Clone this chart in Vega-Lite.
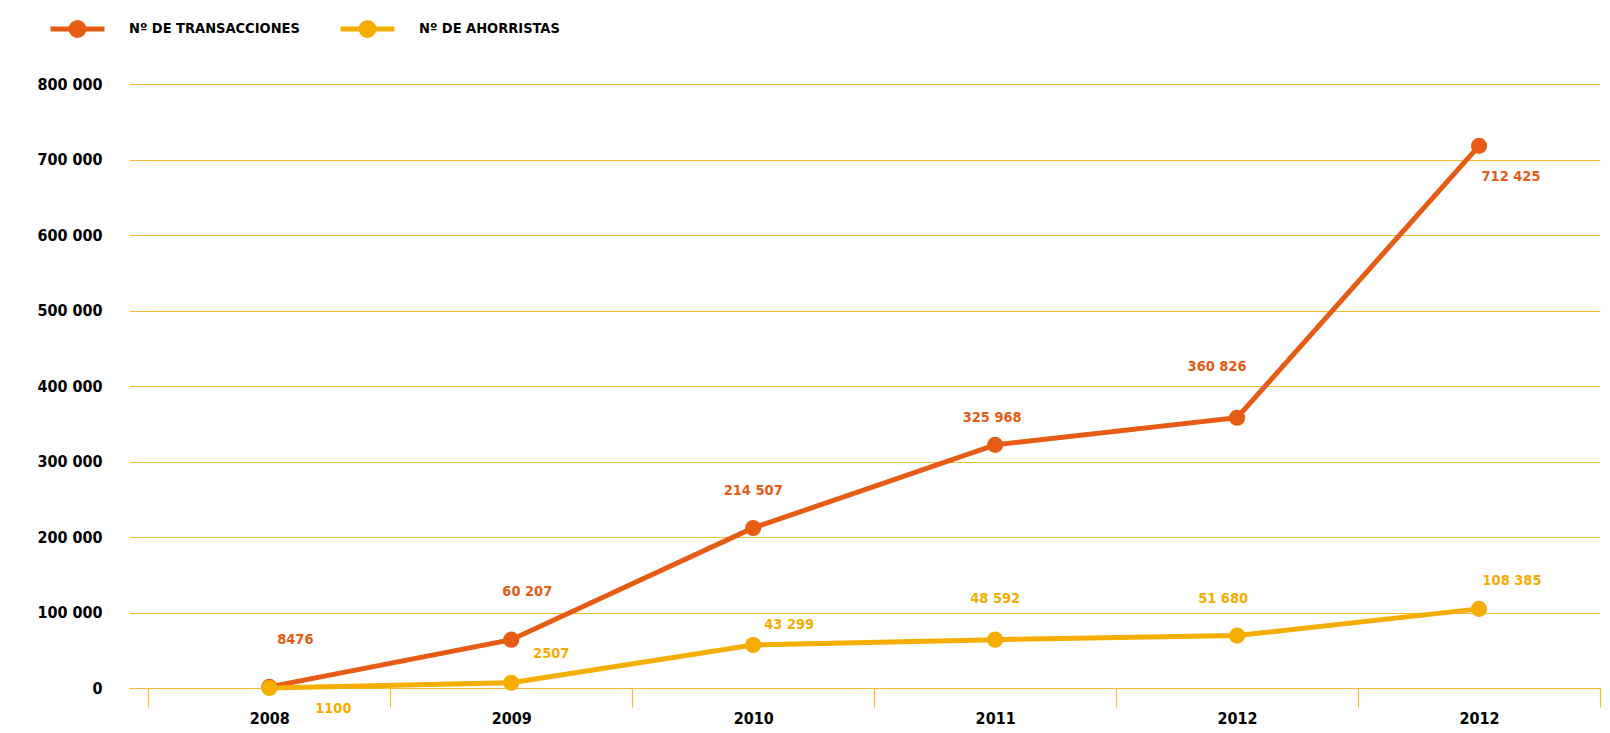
{
  "$schema": "https://vega.github.io/schema/vega-lite/v6.json",
  "autosize": {"type": "none"},
  "padding": {"left": 129, "top": 84, "right": 10, "bottom": 45},
  "width": 1471,
  "height": 604,
  "background": "white",
  "config": {
    "view": {"stroke": null},
    "font": "DejaVu Sans Condensed",
    "locale": {"number": {"decimal": ",", "thousands": " ", "grouping": [3], "currency": ["", ""]}}
  },
  "data": {"values": [
    {"year": "2008", "series": "Nº DE TRANSACCIONES", "value": 1500, "label": "8476"},
    {"year": "2009", "series": "Nº DE TRANSACCIONES", "value": 64000, "label": "60 207"},
    {"year": "2010", "series": "Nº DE TRANSACCIONES", "value": 212000, "label": "214 507"},
    {"year": "2011", "series": "Nº DE TRANSACCIONES", "value": 322000, "label": "325 968"},
    {"year": "2012", "series": "Nº DE TRANSACCIONES", "value": 358000, "label": "360 826"},
    {"year": "2012 ", "series": "Nº DE TRANSACCIONES", "value": 718000, "label": "712 425"},
    {"year": "2008", "series": "Nº DE AHORRISTAS", "value": 0, "label": "1100"},
    {"year": "2009", "series": "Nº DE AHORRISTAS", "value": 6900, "label": "2507"},
    {"year": "2010", "series": "Nº DE AHORRISTAS", "value": 57000, "label": "43 299"},
    {"year": "2011", "series": "Nº DE AHORRISTAS", "value": 64000, "label": "48 592"},
    {"year": "2012", "series": "Nº DE AHORRISTAS", "value": 69400, "label": "51 680"},
    {"year": "2012 ", "series": "Nº DE AHORRISTAS", "value": 104800, "label": "108 385"}
  ]},
  "encoding": {
    "x": {
      "field": "year", "type": "nominal", "sort": null,
      "scale": {"type": "band", "paddingInner": 0, "paddingOuter": 0.04, "align": 1},
      "axis": {
        "title": null, "labelAngle": 0, "tickBand": "extent",
        "domain": true, "domainColor": "#F8B934", "domainWidth": 1.2,
        "ticks": true, "tickColor": "#F8B934", "tickSize": 19, "tickWidth": 1.2,
        "labelFont": "DejaVu Sans Condensed", "labelFontWeight": "bold", "labelFontSize": 16,
        "labelColor": "#000000", "labelPadding": 3,
        "labelExpr": "slice(datum.label, 0, 4)"
      }
    },
    "y": {
      "field": "value", "type": "quantitative",
      "scale": {"domain": [0, 800000], "nice": false},
      "axis": {
        "title": null, "values": [0, 100000, 200000, 300000, 400000, 500000, 600000, 700000, 800000],
        "format": ",d", "domain": false, "ticks": false,
        "grid": true, "gridColor": "#F8B934", "gridWidth": 1.2,
        "labelFont": "DejaVu Sans Condensed", "labelFontWeight": "bold", "labelFontSize": 16,
        "labelColor": "#000000", "labelPadding": 27
      }
    }
  },
  "layer": [
    {
      "mark": {"type": "line", "strokeWidth": 5, "point": {"filled": true, "opacity": 1, "size": 260}},
      "encoding": {
        "color": {
          "field": "series", "type": "nominal",
          "scale": {"domain": ["Nº DE TRANSACCIONES", "Nº DE AHORRISTAS"], "range": ["#E65C14", "#F5AD00"]},
          "legend": {
            "title": null, "orient": "none", "direction": "horizontal",
            "legendX": -81, "legendY": -85,
            "symbolType": "M-1,0 L1,0 M0.241,0 A0.241,0.241 0 1,1 -0.241,0 A0.241,0.241 0 1,1 0.241,0 M0.093,0 A0.093,0.093 0 1,1 -0.093,0 A0.093,0.093 0 1,1 0.093,0",
            "symbolSize": 2916, "symbolStrokeWidth": 5, "symbolOpacity": 1,
            "labelFont": "DejaVu Sans Condensed", "labelFontWeight": "bold", "labelFontSize": 14.5,
            "labelColor": "#000000", "labelOffset": 22, "columnPadding": 30, "labelLimit": 400
          }
        }
      }
    },
    {
      "transform": [{"filter": "datum.series == 'Nº DE TRANSACCIONES'"}],
      "mark": {
        "type": "text", "font": "DejaVu Sans Condensed", "fontWeight": "bold", "fontSize": 14.5,
        "align": "center", "baseline": "middle", "color": "#E65C14",
        "dx": {"expr": "[26, 16, 0, -3, -20, 32][indexof(['2008','2009','2010','2011','2012','2012 '], datum.year)]"},
        "dy": {"expr": "[-47, -48, -37, -27, -51, 31][indexof(['2008','2009','2010','2011','2012','2012 '], datum.year)]"}
      },
      "encoding": {"text": {"field": "label", "type": "nominal"}}
    },
    {
      "transform": [{"filter": "datum.series == 'Nº DE AHORRISTAS'"}],
      "mark": {
        "type": "text", "font": "DejaVu Sans Condensed", "fontWeight": "bold", "fontSize": 14.5,
        "align": "center", "baseline": "middle", "color": "#F5AD00",
        "dx": {"expr": "[64, 40, 36, 0, -14, 33][indexof(['2008','2009','2010','2011','2012','2012 '], datum.year)]"},
        "dy": {"expr": "[21, -29, -20, -41, -37, -28][indexof(['2008','2009','2010','2011','2012','2012 '], datum.year)]"}
      },
      "encoding": {"text": {"field": "label", "type": "nominal"}}
    }
  ]
}
